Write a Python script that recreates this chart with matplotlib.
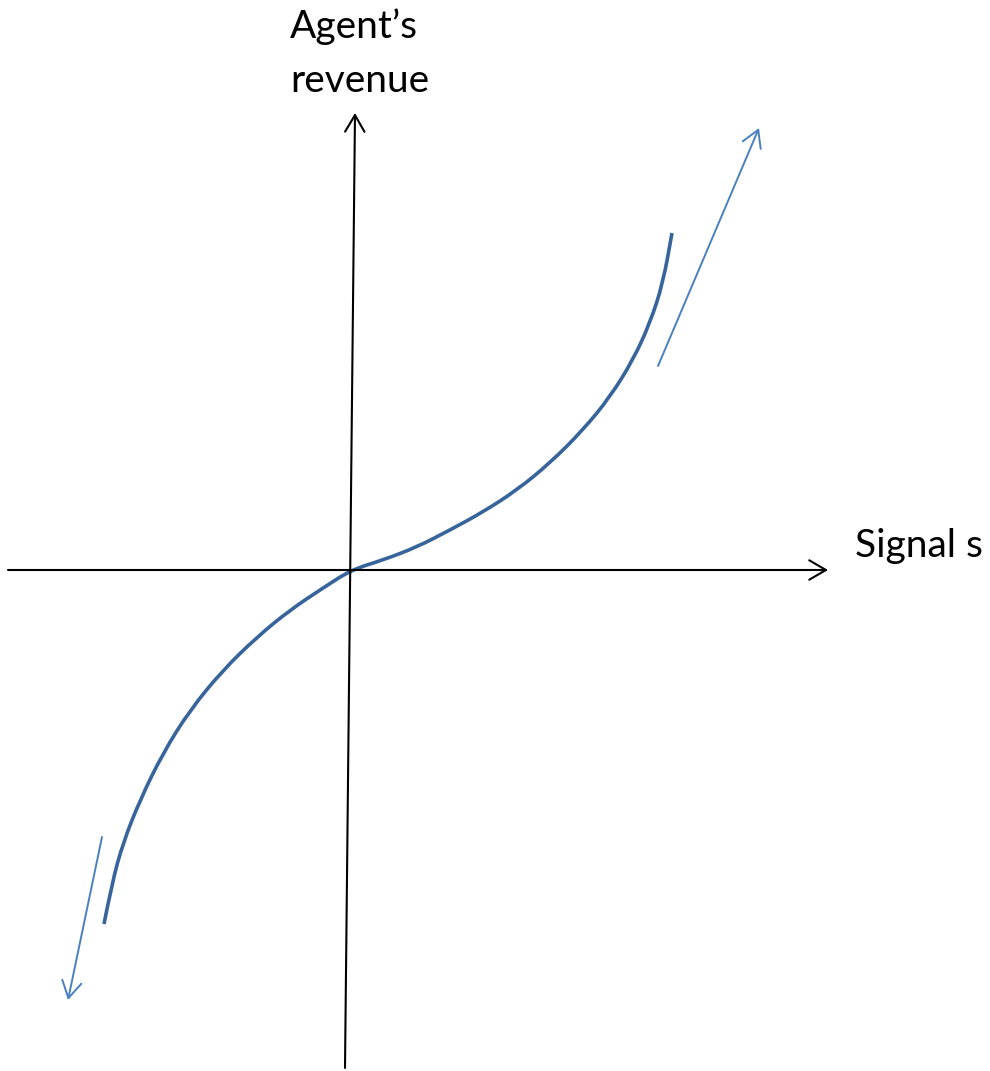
"""Schematic: agent's revenue as a function of the signal s."""

import matplotlib
matplotlib.use("Agg")
import matplotlib.pyplot as plt
import numpy as np
from matplotlib.path import Path
from matplotlib.patches import PathPatch

# curve (origin = axes crossing)
signal = np.array([-247, -239, -228, -211, -188, -161, -128, -94, -61, -28, 0,
                   32, 66, 99, 132, 166, 199, 232, 259, 282, 299, 312, 321])
revenue = np.array([-354, -313, -273, -230, -183, -140, -100, -67, -40, -18, 0,
                    10, 23, 40, 58, 80, 107, 140, 173, 210, 247, 287, 337])

# axis arrows (start, end)
x_axis = ((-343, 0), (477, 0))
y_axis = ((-6, -498), (4, 457))
# trend arrows beside the curve ends
trend_up = ((307, 204), (408, 442))
trend_down = ((-249, -267), (-283, -430))

y_label = ["Agent\u2019s", "revenue"]
x_label = "Signal s"

CURVE = "#37649a"
TREND = "#4a80c0"

plt.rcParams["font.family"] = ["Lato", "DejaVu Sans"]

fig = plt.figure(figsize=(9.9, 10.71), dpi=100)
ax = fig.add_axes([0, 0, 1, 1])
ax.set_xlim(-351, 639)
ax.set_ylim(-501, 570)
ax.axis("off")


def arrow(start, end, color, lw):
    ax.annotate(
        "", xy=end, xytext=start,
        arrowprops=dict(arrowstyle="->,head_length=0.6,head_width=0.35",
                        color=color, lw=lw, mutation_scale=20,
                        shrinkA=0, shrinkB=0),
    )


def smooth_path(xs, ys):
    # quadratic segments through the midpoints, read points as control points
    pts = np.column_stack([xs, ys]).astype(float)
    verts = [pts[0]]
    codes = [Path.MOVETO]
    for i in range(1, len(pts) - 1):
        mid = (pts[i] + pts[i + 1]) / 2
        verts += [pts[i], mid]
        codes += [Path.CURVE3, Path.CURVE3]
    verts.append(pts[-1])
    codes.append(Path.LINETO)
    return Path(verts, codes)


arrow(*x_axis, "black", 1.5)
arrow(*y_axis, "black", 1.5)
arrow(*trend_up, TREND, 1.4)
arrow(*trend_down, TREND, 1.4)

ax.add_patch(PathPatch(smooth_path(signal, revenue), facecolor="none",
                       edgecolor=CURVE, lw=2.6, capstyle="butt",
                       joinstyle="round"))

ax.text(-61, 532, y_label[0], fontsize=28, ha="left", va="baseline")
ax.text(-61, 478, y_label[1], fontsize=28, ha="left", va="baseline")
ax.text(504, 13, x_label, fontsize=28, ha="left", va="baseline")

fig.savefig("out.png", dpi=100)
plt.close(fig)
